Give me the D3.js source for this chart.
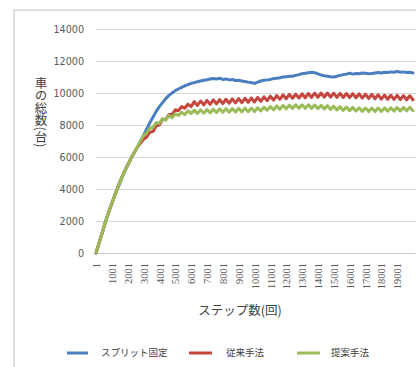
<!DOCTYPE html>
<html>
<head>
<meta charset="utf-8">
<script src="https://cdn.jsdelivr.net/npm/d3@7"></script>
<style>
  html, body { margin: 0; padding: 0; background: #fff; }
  svg { display: block; }
</style>
</head>
<body>
<svg id="chart" width="416" height="367"></svg>
<script>
// Simulation steps sampled every 200 steps (1 … 20001)
const steps = d3.range(1, 20002, 200);

// Total number of cars per method
const splitFixed = [
  0, 650, 1300, 1950, 2550, 3100, 3650, 4150, 4650, 5100, 5500, 5900, 6250, 6600,
  6950, 7350, 7750, 8150, 8500, 8850, 9150, 9400, 9650, 9850, 10000, 10150, 10250, 10350, 10450, 10520, 10600,
  10650, 10700, 10750, 10800, 10830, 10870, 10900, 10880, 10920, 10850,
  10880, 10820, 10850, 10780, 10800, 10750, 10720, 10680, 10650, 10600,
  10680, 10750, 10800, 10820, 10850, 10900, 10920, 10950, 11000, 11020, 11040,
  11050, 11100, 11150, 11200, 11230, 11270, 11300, 11270, 11200, 11120,
  11080, 11050, 11020, 11000, 11050, 11100, 11150, 11180, 11230,
  11180, 11220, 11200, 11250, 11230, 11200, 11220, 11250, 11280, 11250,
  11300, 11280, 11320, 11300, 11350, 11300, 11320, 11280, 11300, 11250
];

const conventional = [
  0, 650, 1300, 1950, 2550, 3100, 3650, 4150, 4650, 5100, 5500, 5900, 6250, 6600,
  6850, 7100, 7250, 7550, 7600, 7950, 8000, 8350, 8350, 8650, 8650, 8950, 8900, 9150, 9050, 9300, 9150,
  9460, 9220, 9500, 9260, 9540, 9290, 9570, 9320, 9590, 9340,
  9610, 9360, 9630, 9380, 9650, 9400, 9670, 9420, 9690, 9440,
  9720, 9480, 9760, 9520, 9800, 9560, 9840, 9600, 9880, 9640,
  9910, 9660, 9930, 9680, 9950, 9700, 9970, 9720, 9990, 9730,
  10000, 9740, 10000, 9740, 9990, 9730, 9980, 9720, 9970, 9710,
  9960, 9700, 9950, 9680, 9930, 9660, 9910, 9640, 9890, 9620,
  9870, 9610, 9860, 9600, 9850, 9590, 9840, 9580, 9830, 9570
];

const proposed = [
  0, 650, 1300, 1950, 2550, 3100, 3650, 4150, 4650, 5100, 5500, 5900, 6250, 6600,
  7000, 7350, 7500, 7800, 7850, 8150, 8100, 8400, 8300, 8600, 8450, 8700, 8600, 8800, 8650, 8880, 8720,
  8930, 8720, 8950, 8740, 8970, 8760, 8990, 8780, 9010, 8790,
  9020, 8800, 9030, 8810, 9040, 8820, 9050, 8830, 9060, 8840,
  9080, 8880, 9120, 8920, 9150, 8950, 9190, 8990, 9220, 9010,
  9240, 9030, 9260, 9040, 9260, 9040, 9260, 9040, 9250, 9020,
  9230, 9000, 9210, 8970, 9180, 8940, 9150, 8910, 9120, 8890,
  9100, 8870, 9080, 8850, 9060, 8840, 9060, 8840, 9060, 8850,
  9070, 8860, 9080, 8870, 9090, 8880, 9100, 8890, 9110, 8890
];

const seriesNames = ["スプリット固定", "従来手法", "提案手法"];
const seriesColors = ["#4a7ebf", "#c4463f", "#9bbb59"];
const yTicks = [0, 2000, 4000, 6000, 8000, 10000, 12000, 14000];
const xTicks = [1, 1001, 2001, 3001, 4001, 5001, 6001, 7001, 8001, 9001, 10001,
                11001, 12001, 13001, 14001, 15001, 16001, 17001, 18001, 19001];

const svg = d3.select("#chart");

// outer chart frame
svg.append("rect")
  .attr("x", 14).attr("y", 10)
  .attr("width", 420).attr("height", 380)
  .attr("fill", "#fff")
  .attr("stroke", "#d4d4d4")
  .attr("stroke-width", 1.5);

const x = d3.scaleLinear().domain([1, 20001]).range([96, 413]);
const y = d3.scaleLinear().domain([0, 14000]).range([253, 29]);

// y axis with horizontal gridlines
const yAxis = svg.append("g")
  .attr("transform", "translate(96,0)")
  .call(d3.axisLeft(y).tickValues(yTicks).tickSize(-322).tickPadding(12).tickFormat(d3.format("d")));
yAxis.select(".domain").remove();
yAxis.selectAll(".tick line").attr("stroke", "#d9d9d9").attr("stroke-width", 1);
yAxis.selectAll(".tick text")
  .attr("fill", "#595959")
  .style("font-family", "'DejaVu Sans', sans-serif")
  .style("font-size", "9.6px");

// x axis, rotated labels
const xAxis = svg.append("g")
  .attr("transform", "translate(0,253)")
  .call(d3.axisBottom(x).tickValues(xTicks).tickSize(0).tickPadding(0).tickFormat(d3.format("d")));
xAxis.select(".domain").attr("stroke", "#c8c8c8");
xAxis.selectAll(".tick text")
  .attr("fill", "#595959")
  .attr("transform", "rotate(-90)")
  .attr("x", -10).attr("y", 0).attr("dy", "0.35em")
  .attr("text-anchor", "end")
  .style("font-family", "'Liberation Serif', serif")
  .style("font-size", "10.5px");

// series lines
const line = d3.line()
  .x((d, i) => x(steps[i]))
  .y(d => y(d));

[splitFixed, conventional, proposed].forEach((vals, k) => {
  svg.append("path")
    .datum(vals)
    .attr("d", line)
    .attr("fill", "none")
    .attr("stroke", seriesColors[k])
    .attr("stroke-width", 3)
    .attr("stroke-linejoin", "round")
    .attr("stroke-linecap", "round");
});

// axis titles
svg.append("text")
  .attr("x", 41).attr("y", 112)
  .attr("text-anchor", "middle")
  .style("writing-mode", "vertical-rl")
  .style("font-family", "'Noto Sans CJK JP', sans-serif")
  .style("font-size", "12.5px")
  .attr("fill", "#404040")
  .text("車の総数(台)");

svg.append("text")
  .attr("x", 240).attr("y", 315)
  .attr("text-anchor", "middle")
  .style("font-family", "'Noto Sans CJK JP', sans-serif")
  .style("font-size", "12.5px")
  .attr("fill", "#404040")
  .text("ステップ数(回)");

// legend
const legendItems = [
  { x1: 67, x2: 88, tx: 101 },
  { x1: 189, x2: 212, tx: 226 },
  { x1: 297, x2: 320, tx: 331 }
];
legendItems.forEach((it, k) => {
  svg.append("line")
    .attr("x1", it.x1).attr("x2", it.x2)
    .attr("y1", 353).attr("y2", 353)
    .attr("stroke", seriesColors[k])
    .attr("stroke-width", 3);
  svg.append("text")
    .attr("x", it.tx).attr("y", 353).attr("dy", "0.35em")
    .style("font-family", "'Noto Sans CJK JP', sans-serif")
    .style("font-size", "9.5px")
    .attr("fill", "#404040")
    .text(seriesNames[k]);
});
</script>
</body>
</html>
